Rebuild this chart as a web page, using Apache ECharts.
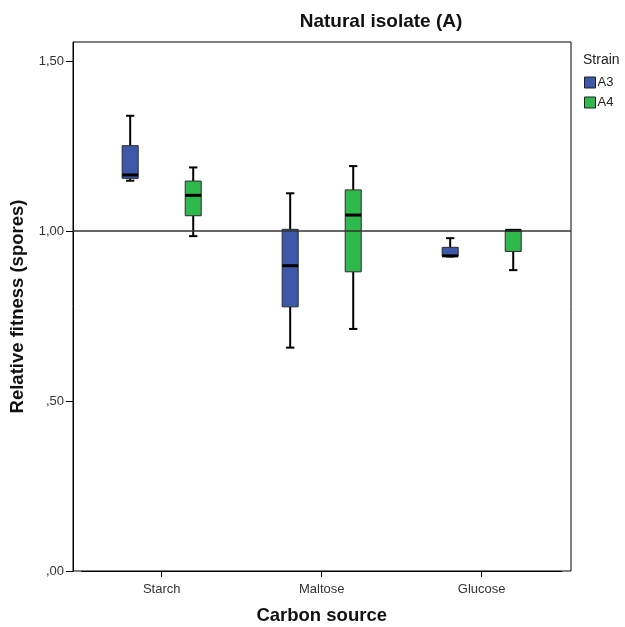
<!DOCTYPE html>
<html><head><meta charset="utf-8">
<script src="https://cdn.jsdelivr.net/npm/echarts@6/dist/echarts.min.js"></script>
<style>html,body{margin:0;padding:0;background:#fff}#c{width:625px;height:627px}</style>
</head><body><div id="c"></div>
<script>
const categories = ['Starch', 'Maltose', 'Glucose'];
const strains = ['A3', 'A4'];
// each box: [min, Q1, median, Q3, max]
const a3Boxes = [
  [1.148, 1.155, 1.165, 1.251, 1.339],
  [0.657, 0.777, 0.898, 1.005, 1.111],
  [0.925, 0.926, 0.927, 0.952, 0.979]
];
const a4Boxes = [
  [0.985, 1.045, 1.105, 1.147, 1.187],
  [0.712, 0.880, 1.047, 1.121, 1.191],
  [0.885, 0.940, 1.002, 1.003, 1.003]
];
const yTicks = [0, 0.5, 1.0, 1.5];
const yMax = 1.556;
const referenceValue = 1.0;

const colors = ['#3d58a9', '#2fb84b'];
const FONT = 'Liberation Sans, Arial, sans-serif';

function fmt(v) {
  let s = v.toFixed(2).replace('.', ',');
  if (s.startsWith('0,')) s = s.slice(1);
  return s;
}

function makeRender(sign, color) {
  return function (params, api) {
    const idx = api.value(0);
    const vals = [1, 2, 3, 4, 5].map(i => api.value(i));
    const bw = api.size([1, 0])[0];
    const off = sign * bw * 0.197;
    const half = bw * 0.05;
    const capHalf = bw * 0.026;
    const pts = vals.map(v => api.coord([idx, v]));
    const cx = pts[0][0] + off;
    const y = pts.map(p => p[1]);
    const ls = { stroke: '#000', lineWidth: 2 };
    return {
      type: 'group',
      children: [
        { type: 'line', shape: { x1: cx, y1: y[4], x2: cx, y2: y[3] }, style: ls },
        { type: 'line', shape: { x1: cx, y1: y[1], x2: cx, y2: y[0] }, style: ls },
        { type: 'line', shape: { x1: cx - capHalf, y1: y[4], x2: cx + capHalf, y2: y[4] }, style: ls },
        { type: 'line', shape: { x1: cx - capHalf, y1: y[0], x2: cx + capHalf, y2: y[0] }, style: ls },
        { type: 'rect', shape: { x: cx - half, y: y[3], width: 2 * half, height: Math.max(y[1] - y[3], 1) },
          style: { fill: color, stroke: '#2a2a2a', lineWidth: 1 } },
        { type: 'line', shape: { x1: cx - half, y1: y[2], x2: cx + half, y2: y[2] }, style: { stroke: '#000', lineWidth: 3 } }
      ]
    };
  };
}

function toData(boxes) {
  return boxes.map((b, i) => [i].concat(b));
}

const chart = echarts.init(document.getElementById('c'));
chart.setOption({
  animation: false,
  backgroundColor: '#fff',
  textStyle: { fontFamily: FONT },
  title: [
    { text: 'Natural isolate (A)', left: 376, top: 7, textAlign: 'center',
      textStyle: { fontFamily: FONT, fontSize: 19, fontWeight: 'bold', color: '#111' } },
    { text: 'Strain', left: 578, top: 48,
      textStyle: { fontFamily: FONT, fontSize: 14, fontWeight: 'normal', color: '#222' } }
  ],
  legend: {
    left: 584, top: 76, padding: 0, orient: 'vertical', itemWidth: 11, itemHeight: 11, itemGap: 7,
    textStyle: { fontFamily: FONT, fontSize: 13, color: '#222', padding: [0, 0, 0, -3] },
    data: strains.map((s, i) => ({ name: s, icon: 'rect', itemStyle: { color: colors[i], borderColor: '#222', borderWidth: 1 } }))
  },
  grid: [
    { left: 81.7, right: 63.3, top: 42, bottom: 56, outerBoundsMode: 'none', containLabel: false },
    { left: 73, right: 54, top: 42, bottom: 56, outerBoundsMode: 'none', containLabel: false,
      show: true, borderColor: '#000', borderWidth: 1, backgroundColor: 'transparent' }
  ],
  xAxis: [
    { type: 'category', gridIndex: 0, data: categories, boundaryGap: true,
      axisLine: { show: true, onZero: false, lineStyle: { color: '#000', width: 1 } },
      axisTick: { show: true, alignWithLabel: true, length: 6, lineStyle: { color: '#000' } },
      axisLabel: { fontFamily: FONT, fontSize: 13, color: '#333', margin: 12 },
      splitLine: { show: false },
      name: 'Carbon source', nameLocation: 'middle', nameGap: 35,
      nameTextStyle: { fontFamily: FONT, fontSize: 18.5, fontWeight: 'bold', color: '#111' } },
    { type: 'value', gridIndex: 1, show: false, min: 0, max: 1 }
  ],
  yAxis: [
    { type: 'value', gridIndex: 0, min: yTicks[0], max: yMax, interval: yTicks[1] - yTicks[0], offset: 8.7,
      axisLine: { show: true, lineStyle: { color: '#000', width: 1 } },
      axisTick: { show: true, length: 7, lineStyle: { color: '#000' } },
      axisLabel: { fontFamily: FONT, fontSize: 13, color: '#333', margin: 9, formatter: fmt,
        showMaxLabel: false },
      splitLine: { show: false },
      name: 'Relative fitness (spores)', nameLocation: 'middle', nameGap: 46,
      nameTextStyle: { fontFamily: FONT, fontSize: 18.5, fontWeight: 'bold', color: '#111' } },
    { type: 'value', gridIndex: 1, show: false, min: yTicks[0], max: yMax }
  ],
  series: [
    { name: strains[0], type: 'custom', xAxisIndex: 0, yAxisIndex: 0, itemStyle: { color: colors[0] },
      encode: { x: 0, y: [1, 2, 3, 4, 5] }, renderItem: makeRender(-1, colors[0]), data: toData(a3Boxes), z: 2 },
    { name: strains[1], type: 'custom', xAxisIndex: 0, yAxisIndex: 0, itemStyle: { color: colors[1] },
      encode: { x: 0, y: [1, 2, 3, 4, 5] }, renderItem: makeRender(1, colors[1]), data: toData(a4Boxes), z: 2 },
    { name: 'ref', type: 'line', xAxisIndex: 1, yAxisIndex: 1, data: [], z: 5,
      markLine: { silent: true, symbol: ['none', 'none'], label: { show: false },
        lineStyle: { color: '#333', width: 1.5, type: 'solid' },
        data: [{ yAxis: referenceValue }] } }
  ]
});
</script></body></html>
